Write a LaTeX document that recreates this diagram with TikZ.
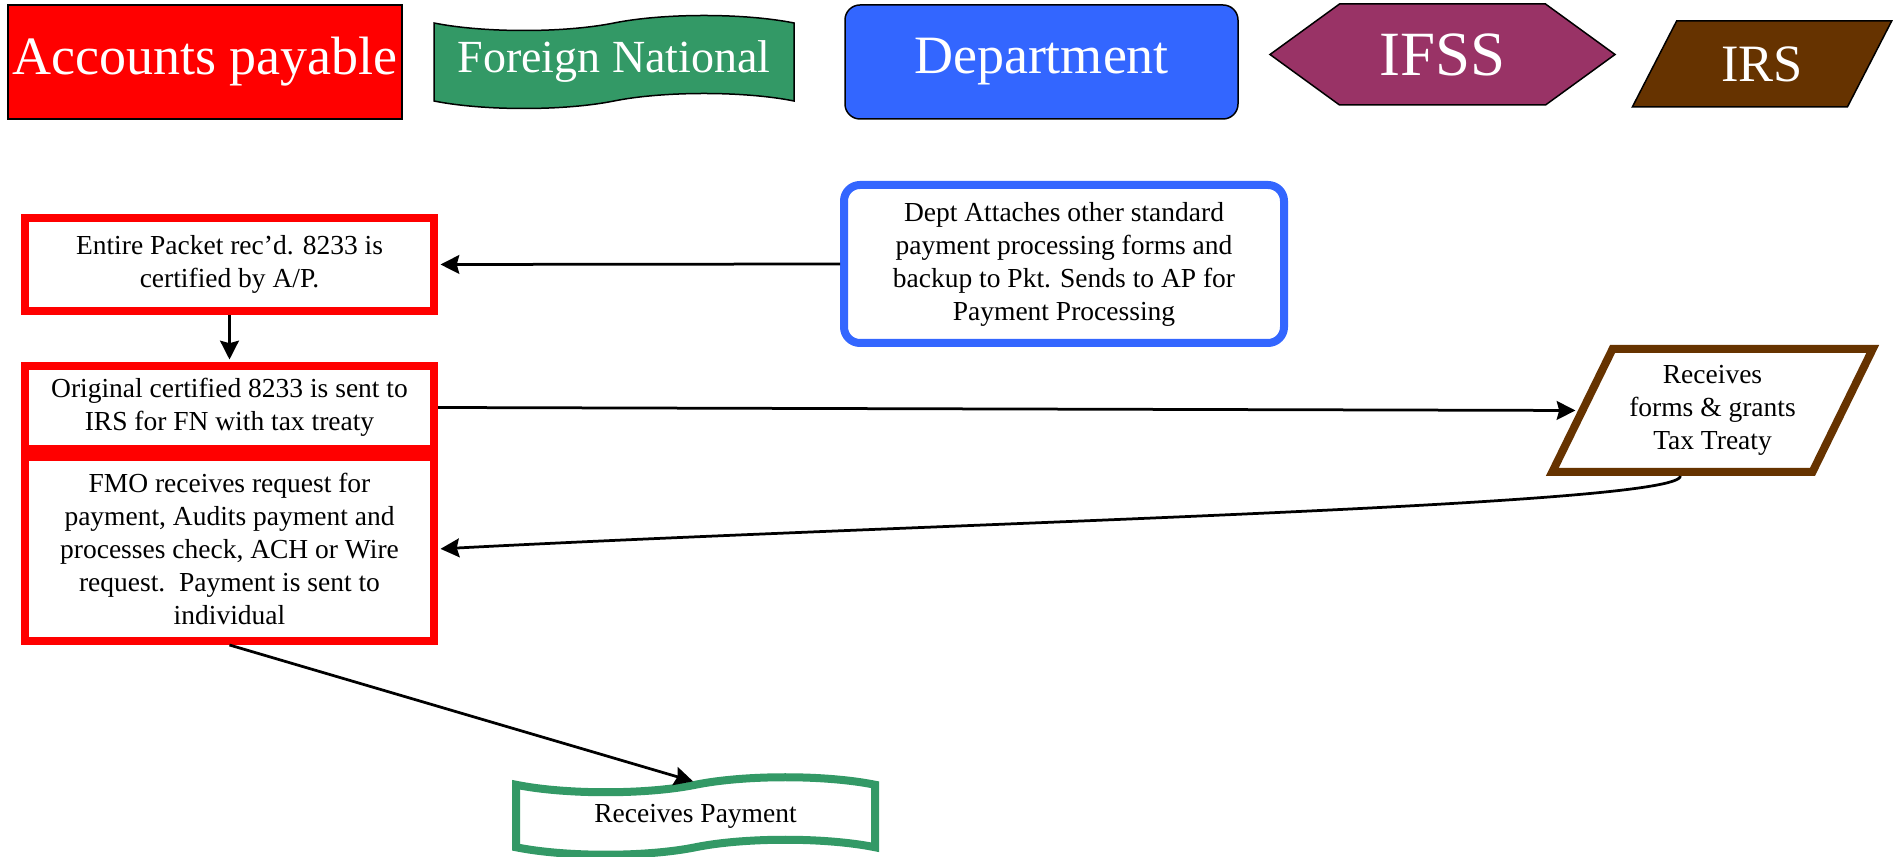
\documentclass[tikz,border=0pt]{standalone}
\usepackage{fontspec}
\setmainfont{Liberation Serif}
\usepackage{xcolor}
\usepackage{tikz}
\usetikzlibrary{arrows.meta,positioning,shapes.geometric,shapes.symbols}

\definecolor{apred}{HTML}{FF0000}
\definecolor{fngreen}{HTML}{339966}
\definecolor{deptblue}{HTML}{3366FF}
\definecolor{ifssplum}{HTML}{993366}
\definecolor{irsbrown}{HTML}{663300}

\begin{document}
\begin{tikzpicture}[x=0.4pt,y=-0.4pt,->,>={Stealth[length=7.5pt,width=7.5pt,inset=1pt]},shorten >=1pt,
  line width=1.1pt,
  key node/.style={draw=black,line width=0.6pt,text=white,inner sep=0pt},
  flow box/.style={fill=white,line width=3.2pt,inner sep=2pt,align=center,
  font=\fontsize{11}{13.2}\selectfont,text=black}]

  \useasboundingbox (0,0) rectangle (1900,857);

  \node[key node,fill=apred,minimum width=157.6pt,minimum height=45.6pt,
    font=\fontsize{21.6}{24}\selectfont] (ap) at (205,62) {Accounts payable};
  \node[key node,tape,fill=fngreen,minimum width=144pt,minimum height=37.2pt,
    tape bend height=6pt,font=\fontsize{18.4}{22}\selectfont] (fn) at (614,62) {Foreign National};
  \node[key node,fill=deptblue,rounded corners=6pt,minimum width=157.2pt,
    minimum height=45.6pt,font=\fontsize{21.6}{24}\selectfont] (dept) at (1041.5,62) {Department};
  \node[key node,signal,signal to=east and west,signal pointer angle=72,fill=ifssplum,
    minimum width=138pt,minimum height=40.4pt,font=\fontsize{25.2}{28}\selectfont] (ifss) at (1442.5,54.5) {IFSS};
  \node[key node,trapezium,trapezium left angle=59,trapezium right angle=121,
    trapezium stretches=true,fill=irsbrown,minimum width=104pt,minimum height=34.4pt,
    font=\fontsize{21}{24}\selectfont] (irs) at (1762,64) {IRS};

  \node[flow box,draw=apred,minimum width=163.6pt,minimum height=37.2pt] (entire) at (229.5,264.5)
    {Entire Packet rec’d. 8233 is\\certified by A/P.};
  \node[flow box,draw=apred,minimum width=163.6pt,minimum height=33.2pt,below=18.8pt of entire] (orig)
    {Original certified 8233 is sent to\\IRS for FN with tax treaty};
  \node[flow box,draw=apred,minimum width=163.6pt,minimum height=73.6pt,below=0pt of orig] (fmo)
    {FMO receives request for\\payment, Audits payment and\\processes check, ACH or Wire\\request.\ \ Payment is sent to\\individual};
  \node[flow box,draw=deptblue,rounded corners=6.4pt,minimum width=176pt,minimum height=63.2pt] (deptstep) at (1064,264)
    {Dept Attaches other standard\\payment processing forms and\\backup to Pkt. Sends to AP for\\Payment Processing};
  \node[flow box,draw=irsbrown,trapezium,trapezium left angle=62,trapezium right angle=118,
    trapezium stretches=true,minimum width=128.4pt,minimum height=49.2pt] (irsstep) at (1712.5,410.5)
    {Receives\\forms \& grants\\Tax Treaty};
  \node[flow box,draw=fngreen,tape,tape bend height=6pt,minimum width=143.6pt,minimum height=31pt] (pay) at (695.5,816)
    {Receives Payment};

  \path (deptstep.west) edge (entire.east)
        (entire.south) edge (orig.north)
        (orig.east) edge (irsstep.west)
        (irsstep.bottom side) edge[out=-90,in=3,out distance=12pt,in distance=200pt] (fmo.east)
        (fmo.south) edge (pay.north);
\end{tikzpicture}
\end{document}
